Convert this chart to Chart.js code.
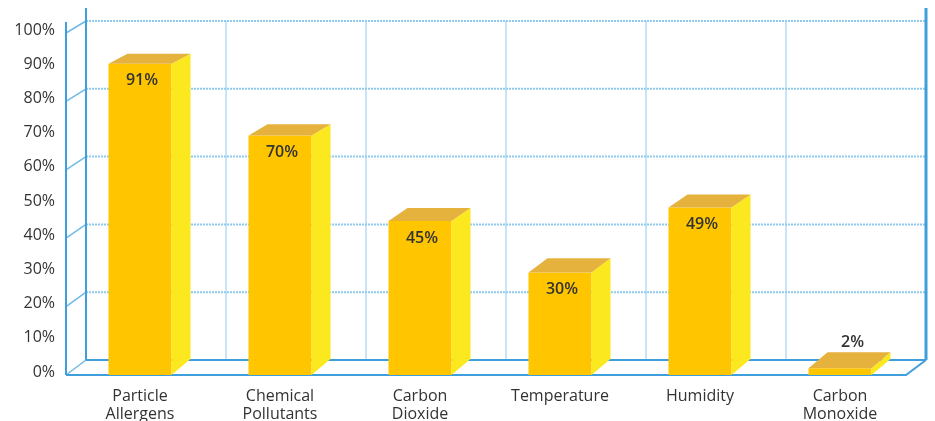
<!DOCTYPE html>
<html>
<head>
<meta charset="utf-8">
<script src="https://cdn.jsdelivr.net/npm/chart.js@4.4.0/dist/chart.umd.min.js"></script>
<style>
html, body { margin: 0; padding: 0; background: #fff; }
</style>
</head>
<body>
<canvas id="bar-chart" width="935" height="421"></canvas>
<script>
var categories = [['Particle', 'Allergens'], ['Chemical', 'Pollutants'], ['Carbon', 'Dioxide'], 'Temperature', 'Humidity', ['Carbon', 'Monoxide']];
var values = [91, 70, 45, 30, 49, 2];
var tickStep = 10;
var tickMax = 100;

var frontColor = '#ffc600';
var sideColor = '#fbe81e';
var topColor = '#e6b23e';
var axisBlue = '#3f9fdc';

// perspective depth of back wall and bars
function wallDy(y) { return -(12 + 3 * (y - 33) / 342); }
function barDy(y) { return -(10 + 6 * (y - 60) / 310); }

var wallPlugin = {
    id: 'wall3d',
    beforeDatasetsDraw: function(chart) {
        var ctx = chart.ctx;
        var ca = chart.chartArea;
        var ys = chart.scales.y;
        var fx0 = ca.left - 4, fx1 = ca.right - 4;
        var bx0 = fx0 + 20, bx1 = fx1 + 20;
        var catW = (ca.right - ca.left) / categories.length;
        function fy(v) { return ys.getPixelForValue(v); }
        function by(v) { var y = fy(v); return y + wallDy(y); }

        ctx.save();
        // back vertical gridlines
        ctx.strokeStyle = 'rgba(150,205,240,0.7)';
        ctx.lineWidth = 1.5;
        for (var k = 1; k < categories.length; k++) {
            var gx = bx0 + k * catW;
            ctx.beginPath();
            ctx.moveTo(gx, by(tickMax));
            ctx.lineTo(gx, by(0));
            ctx.stroke();
        }
        // dotted horizontal gridlines
        ctx.strokeStyle = '#8fcbef';
        ctx.lineWidth = 2;
        ctx.setLineDash([2, 1]);
        for (var v = 20; v <= tickMax; v += 20) {
            ctx.beginPath();
            ctx.moveTo(bx0, by(v));
            ctx.lineTo(bx1, by(v));
            ctx.stroke();
        }
        ctx.setLineDash([]);
        // left side diagonals
        ctx.strokeStyle = '#6fbbe8';
        ctx.lineWidth = 1.5;
        for (var v2 = 0; v2 <= tickMax; v2 += 20) {
            ctx.beginPath();
            ctx.moveTo(fx0, fy(v2));
            ctx.lineTo(bx0, by(v2));
            ctx.stroke();
        }
        // back floor
        ctx.strokeStyle = axisBlue;
        ctx.lineWidth = 2;
        ctx.beginPath();
        ctx.moveTo(bx0, by(0));
        ctx.lineTo(bx1, by(0));
        ctx.stroke();
        // back left & front left verticals
        ctx.beginPath();
        ctx.moveTo(bx0, 8);
        ctx.lineTo(bx0, by(0));
        ctx.moveTo(fx0, 22);
        ctx.lineTo(fx0, fy(0));
        ctx.stroke();
        // right wall
        ctx.lineWidth = 3;
        ctx.beginPath();
        ctx.moveTo(bx1, 8);
        ctx.lineTo(bx1, by(0));
        ctx.stroke();
        // front floor
        ctx.lineWidth = 2;
        ctx.beginPath();
        ctx.moveTo(fx0, fy(0));
        ctx.lineTo(fx1, fy(0));
        ctx.lineTo(bx1, by(0));
        ctx.stroke();
        ctx.restore();
    },
    afterDatasetsDraw: function(chart) {
        var ctx = chart.ctx;
        var meta = chart.getDatasetMeta(0);
        var dx = 19;
        ctx.save();
        meta.data.forEach(function(bar, i) {
            var left = bar.x - bar.width / 2;
            var right = bar.x + bar.width / 2;
            var top = bar.y;
            var base = bar.base;
            var dt = barDy(top), db = barDy(base);

            ctx.fillStyle = sideColor;
            ctx.beginPath();
            ctx.moveTo(right, top);
            ctx.lineTo(right + dx, top + dt);
            ctx.lineTo(right + dx, base + db);
            ctx.lineTo(right, base);
            ctx.closePath();
            ctx.fill();

            ctx.fillStyle = topColor;
            ctx.beginPath();
            ctx.moveTo(left, top);
            ctx.lineTo(left + dx, top + dt);
            ctx.lineTo(right + dx, top + dt);
            ctx.lineTo(right, top);
            ctx.closePath();
            ctx.fill();

            ctx.fillStyle = '#333';
            ctx.font = '600 16px "Open Sans", sans-serif';
            ctx.textAlign = 'center';
            ctx.textBaseline = 'middle';
            var label = values[i] + '%';
            if (values[i] >= 10) {
                ctx.fillText(label, bar.x + 2, top + 17);
            } else {
                ctx.fillText(label, bar.x + dx / 2 + 3, top + dt - 10);
            }
        });
        ctx.restore();
    }
};

var ctx = document.getElementById('bar-chart');
var barChart = new Chart(ctx, {
    type: 'bar',
    data: {
        labels: categories,
        datasets: [{
            data: values,
            backgroundColor: frontColor,
            borderWidth: 0,
            barPercentage: 0.45,
            categoryPercentage: 1
        }]
    },
    options: {
        responsive: false,
        animation: false,
        layout: { padding: { top: 33, right: 25, left: 0, bottom: 0 } },
        plugins: {
            legend: { display: false },
            tooltip: { enabled: false }
        },
        scales: {
            x: {
                grid: { display: false },
                border: { display: false },
                ticks: {
                    color: '#333',
                    padding: 4,
                    maxRotation: 0,
                    font: { family: '"Open Sans", sans-serif', size: 16, lineHeight: 1.125 }
                },
                afterFit: function(s) { s.height = 46; }
            },
            y: {
                min: 0,
                max: tickMax,
                grid: { display: false },
                border: { display: false },
                ticks: {
                    stepSize: tickStep,
                    color: '#333',
                    padding: 7,
                    labelOffset: -3,
                    font: { family: '"Open Sans", sans-serif', size: 16 },
                    callback: function(v) { return v + '%'; }
                },
                afterFit: function(s) { s.width = 70; }
            }
        }
    },
    plugins: [wallPlugin]
});
</script>
</body>
</html>
